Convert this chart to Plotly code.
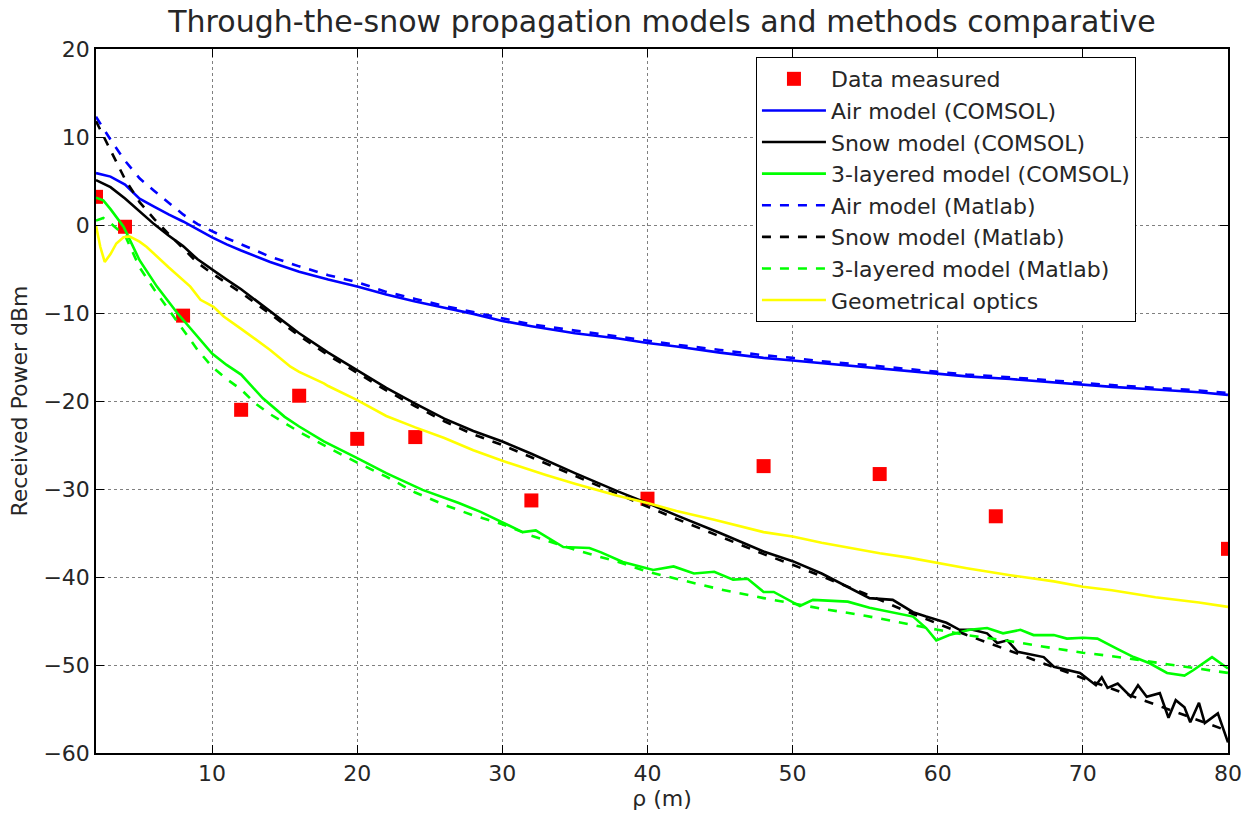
import plotly.graph_objects as go

# ---------------- data ----------------
meas_x = [2, 4, 8, 12, 16, 20, 24, 32, 40, 48, 56, 64, 80]
meas_y = [3.2, -0.2, -10.3, -21.0, -19.4, -24.3, -24.1, -31.3, -31.1, -27.4, -28.3, -33.1, -36.8]

grid_x = [2, 3, 4, 5, 6, 7, 8, 9, 10, 11, 12, 14, 16, 18, 20, 22, 24, 26, 28, 30, 32, 35, 38, 40,
          42, 45, 48, 50, 52, 55, 58, 60, 62, 65, 68, 70, 72, 75, 78, 80]

air_comsol = [5.9, 5.5, 4.6, 3.0, 2.1, 1.2, 0.4, -0.5, -1.4, -2.2, -2.9, -4.2, -5.3, -6.2, -7.0, -7.9,
              -8.7, -9.4, -10.1, -10.9, -11.5, -12.3, -12.9, -13.4, -13.8, -14.5, -15.1, -15.4, -15.7,
              -16.2, -16.6, -16.9, -17.2, -17.5, -17.9, -18.1, -18.4, -18.7, -19.0, -19.3]

air_matlab = [12.3, 9.7, 7.3, 5.3, 3.9, 2.5, 1.2, 0.1, -0.7, -1.5, -2.2, -3.6, -4.7, -5.7, -6.5, -7.6,
              -8.4, -9.2, -9.9, -10.6, -11.3, -12.0, -12.7, -13.1, -13.6, -14.2, -14.8, -15.1, -15.5,
              -15.9, -16.4, -16.7, -17.0, -17.3, -17.7, -17.9, -18.2, -18.5, -18.8, -19.1]

snow_comsol_x = [2, 3, 4, 5, 6, 7, 8, 9, 10, 11, 12, 14, 16, 18, 20, 22, 24, 26, 28, 30, 32, 35, 38,
                 40, 42, 45, 48, 50, 52, 54, 55.3, 56.9, 58.3, 59.2, 60.6, 61.5, 62.4, 63.4, 64.1,
                 64.8, 65.5, 67.3, 68, 69.8, 70.9, 71.3, 71.7, 72.4, 73.3, 73.8, 74.4, 75.3, 75.9,
                 76.4, 77, 77.4, 78, 78.4, 79.3, 80]
snow_comsol = [5.1, 4.3, 3.0, 1.5, 0.1, -1.2, -2.4, -3.9, -5.1, -6.2, -7.3, -9.8, -12.3, -14.5, -16.5,
               -18.5, -20.3, -22.0, -23.4, -24.6, -26.0, -28.2, -30.3, -31.6, -33.0, -35.0, -37.1,
               -38.2, -39.6, -41.3, -42.4, -42.6, -44.0, -44.5, -45.2, -46.0, -46.0, -46.4, -47.5,
               -47.2, -48.5, -49.1, -50.2, -50.9, -52.3, -51.4, -52.6, -52.1, -53.6, -52.3, -53.6,
               -53.2, -56.0, -54.0, -54.8, -56.5, -54.3, -56.6, -55.5, -58.8]

snow_matlab = [11.8, 8.5, 5.2, 2.6, 0.7, -1.0, -2.7, -4.3, -5.5, -6.6, -7.7, -10.1, -12.6, -14.8,
               -16.8, -18.8, -20.6, -22.3, -23.8, -25.0, -26.4, -28.5, -30.6, -32.0, -33.4, -35.4,
               -37.4, -38.6, -39.9, -41.9, -44.0, -45.3, -46.6, -48.4, -50.3, -51.5, -52.7, -54.5,
               -56.3, -57.5]

layer_comsol_x = [2, 2.5, 3, 3.9, 5, 6.2, 7.6, 9.2, 10, 11, 12, 13.5, 15, 16, 17.7, 20, 22, 24.5, 27,
                  28.5, 29.6, 31.4, 32.3, 34.2, 36, 36.8, 38.3, 40.4, 41.8, 43.2, 44.6, 45.9, 46.9,
                  48, 48.7, 50.5, 51.4, 53.8, 55.3, 56.9, 58.3, 59.2, 59.9, 60.8, 62.2, 63.4, 64.5,
                  65.7, 66.6, 68, 68.9, 70, 71, 72.4, 73.5, 74.6, 75.8, 77, 77.6, 78.9, 80]
layer_comsol = [3.1, 2.8, 1.8, -0.2, -4.0, -7.0, -10.0, -13.1, -14.6, -15.9, -17.0, -19.7, -21.8,
                -22.9, -24.6, -26.5, -28.2, -30.1, -31.6, -32.6, -33.5, -34.9, -34.7, -36.6, -36.7,
                -37.2, -38.3, -39.2, -38.8, -39.6, -39.4, -40.3, -40.2, -41.7, -41.7, -43.3, -42.6,
                -42.8, -43.5, -44.0, -44.5, -45.8, -47.2, -46.6, -46.0, -45.8, -46.4, -46.0, -46.6,
                -46.6, -47.0, -46.9, -47.0, -48.2, -49.1, -49.8, -50.9, -51.2, -50.6, -49.1, -50.4]

layer_matlab_x = [2, 2.5, 3, 4, 5, 6, 7, 8, 9, 10, 11, 12, 13, 14, 16, 18, 20, 22, 24, 26, 28, 30,
                  32, 35, 38, 40, 42, 45, 48, 50, 52, 55, 58, 60, 62, 65, 68, 70, 72, 75, 78, 80]
layer_matlab = [0.5, 0.8, 0.2, -1.2, -4.8, -7.3, -9.6, -11.9, -14.2, -16.1, -17.5, -18.7, -20.3,
                -21.5, -23.5, -25.3, -27.0, -28.6, -30.4, -31.8, -33.0, -34.0, -35.3, -36.9, -38.3,
                -39.4, -40.2, -41.4, -42.4, -43.0, -43.6, -44.4, -45.4, -46.0, -46.6, -47.3, -48.1,
                -48.6, -49.0, -49.7, -50.4, -50.9]

geo_x = [2, 2.3, 2.6, 3, 3.4, 3.9, 4.3, 5, 5.5, 6.2, 7, 8.5, 9.2, 10.1, 10.8, 12, 13.1, 14, 15.4, 16,
         17.7, 18, 20, 22, 24, 26, 28, 30, 33, 35, 38, 40, 42, 44.6, 48, 50, 52, 56, 58, 60, 62, 65,
         68, 70, 72, 75, 78, 80]
geo = [-0.1, -2.5, -4.2, -3.3, -2.1, -1.4, -1.3, -1.9, -2.5, -3.6, -4.8, -7.0, -8.5, -9.3, -10.4,
       -11.8, -13.1, -14.2, -16.1, -16.7, -18.0, -18.3, -19.9, -21.7, -23.0, -24.2, -25.6, -26.8,
       -28.4, -29.4, -30.8, -31.6, -32.5, -33.5, -34.9, -35.4, -36.1, -37.3, -37.8, -38.4, -39.0,
       -39.8, -40.5, -41.1, -41.5, -42.3, -42.9, -43.4]

x_ticks = [10, 20, 30, 40, 50, 60, 70, 80]
y_ticks = [-60, -50, -40, -30, -20, -10, 0, 10, 20]

FONT = "DejaVu Sans"
TXT = "#262626"
LW = 2.6

fig = go.Figure()
fig.add_trace(go.Scatter(x=meas_x, y=meas_y, mode="markers", name="Data measured",
                         marker=dict(symbol="square", size=14, color="#ff0000")))
fig.add_trace(go.Scatter(x=grid_x, y=air_comsol, mode="lines", name="Air model (COMSOL)",
                         line=dict(color="#0000ff", width=LW)))
fig.add_trace(go.Scatter(x=snow_comsol_x, y=snow_comsol, mode="lines", name="Snow model (COMSOL)",
                         line=dict(color="#000000", width=LW)))
fig.add_trace(go.Scatter(x=layer_comsol_x, y=layer_comsol, mode="lines",
                         name="3-layered model (COMSOL)", line=dict(color="#00ff00", width=LW)))
fig.add_trace(go.Scatter(x=grid_x, y=air_matlab, mode="lines", name="Air model (Matlab)",
                         line=dict(color="#0000ff", width=LW, dash="dash")))
fig.add_trace(go.Scatter(x=grid_x, y=snow_matlab, mode="lines", name="Snow model (Matlab)",
                         line=dict(color="#000000", width=LW, dash="dash")))
fig.add_trace(go.Scatter(x=layer_matlab_x, y=layer_matlab, mode="lines",
                         name="3-layered model (Matlab)",
                         line=dict(color="#00ff00", width=LW, dash="dash")))
fig.add_trace(go.Scatter(x=geo_x, y=geo, mode="lines", name="Geometrical optics",
                         line=dict(color="#ffff00", width=LW)))

axis_common = dict(
    showline=True, linecolor="#000000", linewidth=1.5, mirror="allticks",
    ticks="inside", ticklen=8, tickcolor="#000000", tickwidth=1,
    showgrid=True, gridcolor="#808080", gridwidth=1, griddash="dot",
    zeroline=False, automargin=False,
    tickfont=dict(family=FONT, size=22, color=TXT),
)

fig.update_layout(
    width=1246, height=821,
    margin=dict(l=96, r=18, t=49, b=68),
    paper_bgcolor="white", plot_bgcolor="white",
    font=dict(family=FONT, color=TXT),
    title=dict(text="Through-the-snow propagation models and methods comparative",
               x=0.5, xref="paper", xanchor="center", y=0.974, yanchor="middle",
               font=dict(family=FONT, size=30, color=TXT)),
    xaxis=dict(range=[2, 80], tickvals=x_ticks,
               title=dict(text="ρ (m)", font=dict(family=FONT, size=22, color=TXT), standoff=4),
               **axis_common),
    yaxis=dict(range=[-60, 20], tickvals=y_ticks,
               title=dict(text="Received Power dBm", font=dict(family=FONT, size=22, color=TXT),
                          standoff=10),
               **axis_common),
    legend=dict(x=0.583, y=0.9886, xanchor="left", yanchor="top",
                bgcolor="white", bordercolor="#000000", borderwidth=1,
                font=dict(family=FONT, size=22, color=TXT), tracegroupgap=0,
                itemwidth=64),
    showlegend=True,
)

fig.write_html("out.html")
